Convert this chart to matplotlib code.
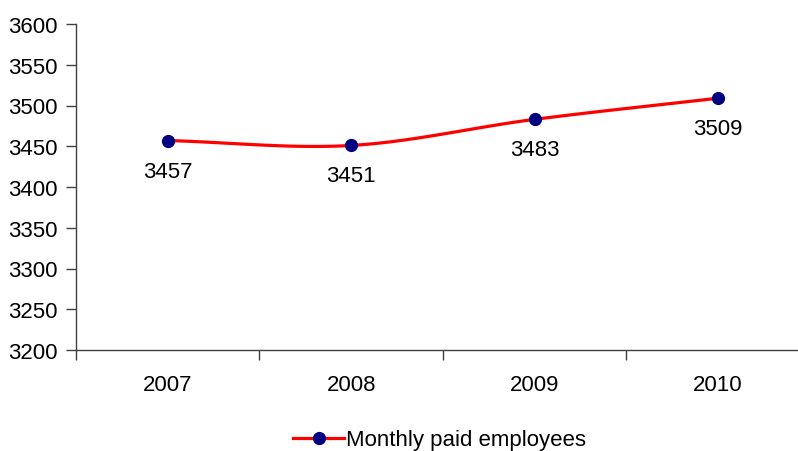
import numpy as np
import matplotlib.pyplot as plt

plt.rcParams['font.family'] = ['Liberation Sans', 'DejaVu Sans']

years = ['2007', '2008', '2009', '2010']
employees = [3457, 3451, 3483, 3509]


def catmull_rom(x, y, n=40):
    # Excel-style smoothed line through the points
    px = np.concatenate([[2 * x[0] - x[1]], x, [2 * x[-1] - x[-2]]])
    py = np.concatenate([[2 * y[0] - y[1]], y, [2 * y[-1] - y[-2]]])
    xs, ys = [], []
    t = np.linspace(0, 1, n)
    for i in range(1, len(px) - 2):
        for p, out in ((px, xs), (py, ys)):
            p0, p1, p2, p3 = p[i - 1], p[i], p[i + 1], p[i + 2]
            out.extend(0.5 * (2 * p1 + (-p0 + p2) * t
                              + (2 * p0 - 5 * p1 + 4 * p2 - p3) * t ** 2
                              + (-p0 + 3 * p1 - 3 * p2 + p3) * t ** 3))
    return np.array(xs), np.array(ys)


x = np.arange(len(years), dtype=float)
y = np.array(employees, dtype=float)
sx, sy = catmull_rom(x, y)

fig = plt.figure(figsize=(7.98, 4.52), dpi=100)
ax = fig.add_axes([76 / 798, 1 - 351 / 452, 1 - 76 / 798, 326 / 452])

ax.plot(sx, sy, color='#ff0000', lw=2.3, zorder=2)
ax.plot(x, y, 'o', color='#000080', ms=8.5, zorder=3)
# legend proxy
ax.plot([], [], color='#ff0000', lw=2.3, marker='o', mfc='#000080', mec='#000080',
        ms=8.5, label='Monthly paid employees')

for xi, yi in zip(x, employees):
    ax.annotate(str(yi), (xi, yi), xytext=(0, -22), textcoords='offset points',
                ha='center', va='center', fontsize=16)

ax.set_ylim(3200, 3600)
ax.set_yticks(np.arange(3200, 3601, 50))
ax.set_xlim(-0.5, 3.435)
ax.set_xticks(x)
ax.set_xticklabels(years)
ax.set_xticks(np.arange(-0.5, 3, 1), minor=True)
ax.tick_params(axis='x', which='major', length=0, pad=17, labelsize=16)
ax.tick_params(axis='x', which='minor', length=7, width=1, color='#404040')
ax.tick_params(axis='y', length=7, width=1, color='#404040', labelsize=16, pad=6)

for s in ['top', 'right']:
    ax.spines[s].set_visible(False)
for s in ['left', 'bottom']:
    ax.spines[s].set_color('#404040')
    ax.spines[s].set_linewidth(1)

fig.legend(loc='center', bbox_to_anchor=(0.551, 1 - 441 / 452), frameon=False,
           fontsize=16, handlelength=2.3, handletextpad=0.1)

fig.savefig('out.png', dpi=100)
